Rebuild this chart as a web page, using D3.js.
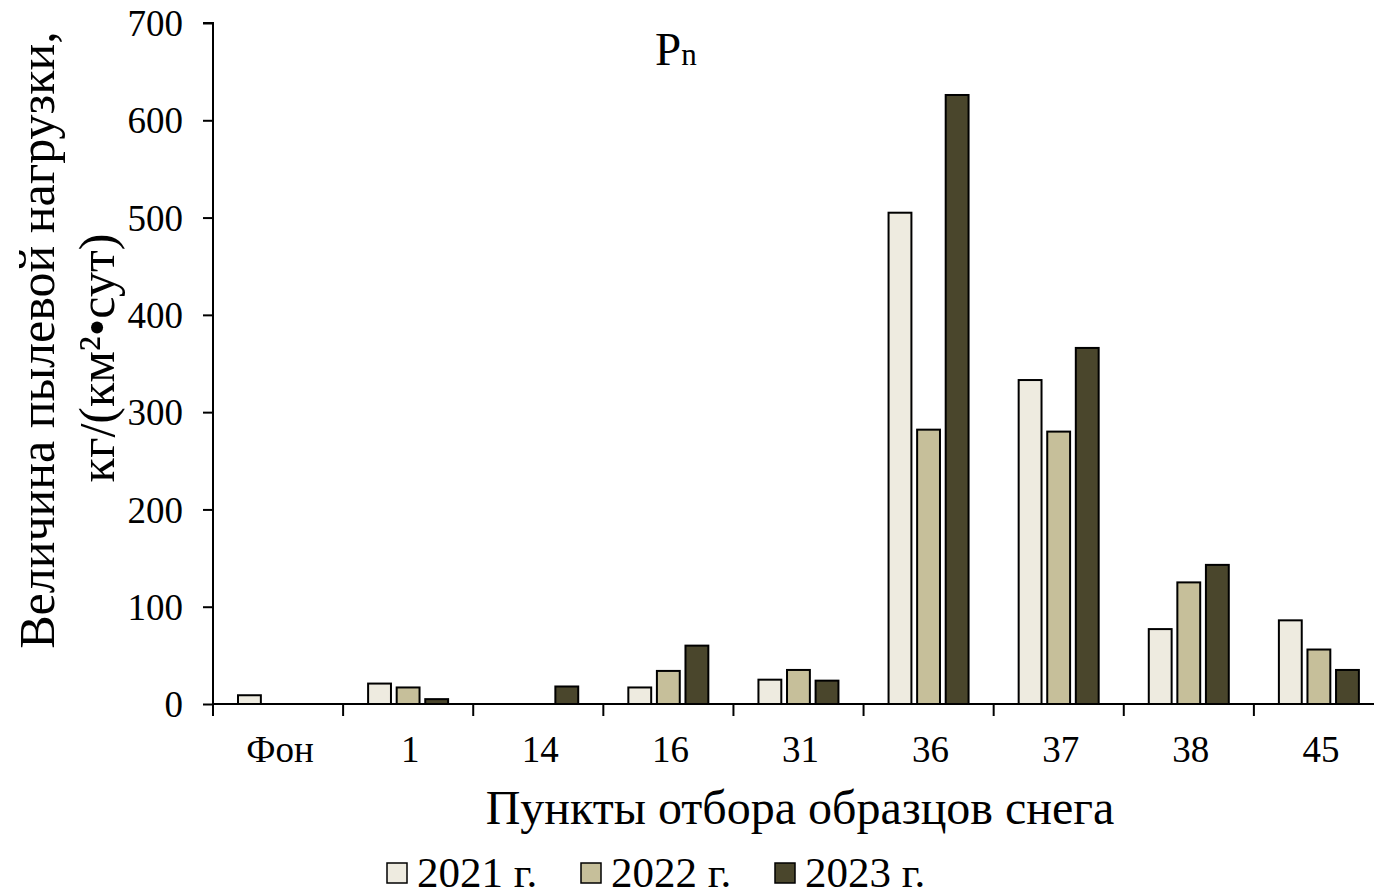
<!DOCTYPE html>
<html>
<head>
<meta charset="utf-8">
<script src="https://cdn.jsdelivr.net/npm/d3@7"></script>
<style>
  body { margin: 0; background: #fff; }
  svg { display: block; }
  svg text { font-family: "Liberation Serif", "DejaVu Serif", serif; fill: #000; }
</style>
</head>
<body>
<svg id="chart"></svg>
<script>
// data
const points = ["Фон", "1", "14", "16", "31", "36", "37", "38", "45"]
const years = ["2021 г.", "2022 г.", "2023 г."]
const v2021 = [9, 21, 0, 17, 25, 505, 333, 77, 86]
const v2022 = [0, 17, 0, 34, 35, 282, 280, 125, 56]
const v2023 = [0, 5, 18, 60, 24, 626, 366, 143, 35]
const yTicks = [0, 100, 200, 300, 400, 500, 600, 700]
const colors = ["#eeebe0", "#c6bf9a", "#4a462c"]

const W = 1374, H = 896
const m = { left: 213, top: 23, right: 1384, bottom: 704 }
const serif = 'Liberation Serif'

const svg = d3.select('#chart')
  .attr('width', W)
  .attr('height', H)
  .attr('font-family', serif)

// scales
const x = d3.scaleBand()
  .domain(points)
  .range([m.left, m.right])

const xSub = d3.scaleBand()
  .domain(years)
  .range([25, 105])
  .paddingInner(0.2)

const y = d3.scaleLinear()
  .domain([0, 700])
  .range([m.bottom, m.top])

const series = [v2021, v2022, v2023]

// bars
const groups = svg.append('g')
  .selectAll('g')
  .data(points)
  .join('g')
  .attr('transform', d => `translate(${x(d)},0)`)

groups.selectAll('rect')
  .data((d, i) => years.map((yr, k) => ({ yr, k, v: series[k][i] })).filter(e => e.v > 0))
  .join('rect')
  .attr('x', e => xSub(e.yr))
  .attr('y', e => y(e.v))
  .attr('width', xSub.bandwidth())
  .attr('height', e => y(0) - y(e.v))
  .attr('fill', e => colors[e.k])
  .attr('stroke', '#000')
  .attr('stroke-width', 2)

// y axis
const yAxis = d3.axisLeft(y)
  .tickValues(yTicks)
  .tickSize(10)
  .tickPadding(20)
  .tickFormat(d3.format('d'))

svg.append('g')
  .attr('transform', `translate(${m.left},0)`)
  .call(yAxis)
  .attr('font-family', serif)
  .call(g => g.select('.domain').attr('stroke-width', 2).attr('d', `M-10,${m.top}H0V${m.bottom}`))
  .call(g => g.selectAll('.tick line').attr('stroke-width', 2))
  .call(g => g.selectAll('.tick text').attr('font-size', 37).attr('dy', '0.34em'))

// x axis: ticks on band edges
const xAxisG = svg.append('g')
  .attr('transform', `translate(0,${m.bottom})`)

xAxisG.append('line')
  .attr('x1', m.left).attr('x2', m.right)
  .attr('stroke', '#000').attr('stroke-width', 2)

xAxisG.selectAll('line.edge')
  .data(points)
  .join('line')
  .attr('class', 'edge')
  .attr('x1', d => x(d)).attr('x2', d => x(d))
  .attr('y1', 0).attr('y2', 12)
  .attr('stroke', '#000').attr('stroke-width', 2)

xAxisG.selectAll('text')
  .data(points)
  .join('text')
  .attr('x', d => x(d) + x.bandwidth() / 2 + 2)
  .attr('y', 58)
  .attr('text-anchor', 'middle')
  .attr('font-size', 37)
  .text(d => d)

// axis titles
svg.append('text')
  .attr('x', 800)
  .attr('y', 824)
  .attr('text-anchor', 'middle')
  .attr('font-size', 48)
  .text('Пункты отбора образцов снега')

const yTitle = svg.append('text')
  .attr('transform', 'translate(0,340) rotate(-90)')
  .attr('text-anchor', 'middle')
  .attr('font-size', 50)
yTitle.append('tspan').attr('x', 0).attr('y', 54).text('Величина пылевой нагрузки,')
yTitle.append('tspan').attr('x', -18).attr('y', 114).text('кг/(км²•сут)')

// title
const title = svg.append('text')
  .attr('x', 655)
  .attr('y', 65)
  .attr('font-size', 47)
title.append('tspan').text('P')
title.append('tspan').attr('font-size', 31).text('n')

// legend
const legendX = [387, 581, 775]
const legend = svg.append('g')
  .selectAll('g')
  .data(years)
  .join('g')
  .attr('transform', (d, i) => `translate(${legendX[i]},863)`)

legend.append('rect')
  .attr('x', 0).attr('y', 0)
  .attr('width', 20).attr('height', 20)
  .attr('fill', (d, i) => colors[i])
  .attr('stroke', '#000')
  .attr('stroke-width', 1.5)

legend.append('text')
  .attr('x', 30)
  .attr('y', 24)
  .attr('font-size', 43)
  .text(d => d)
</script>
</body>
</html>
